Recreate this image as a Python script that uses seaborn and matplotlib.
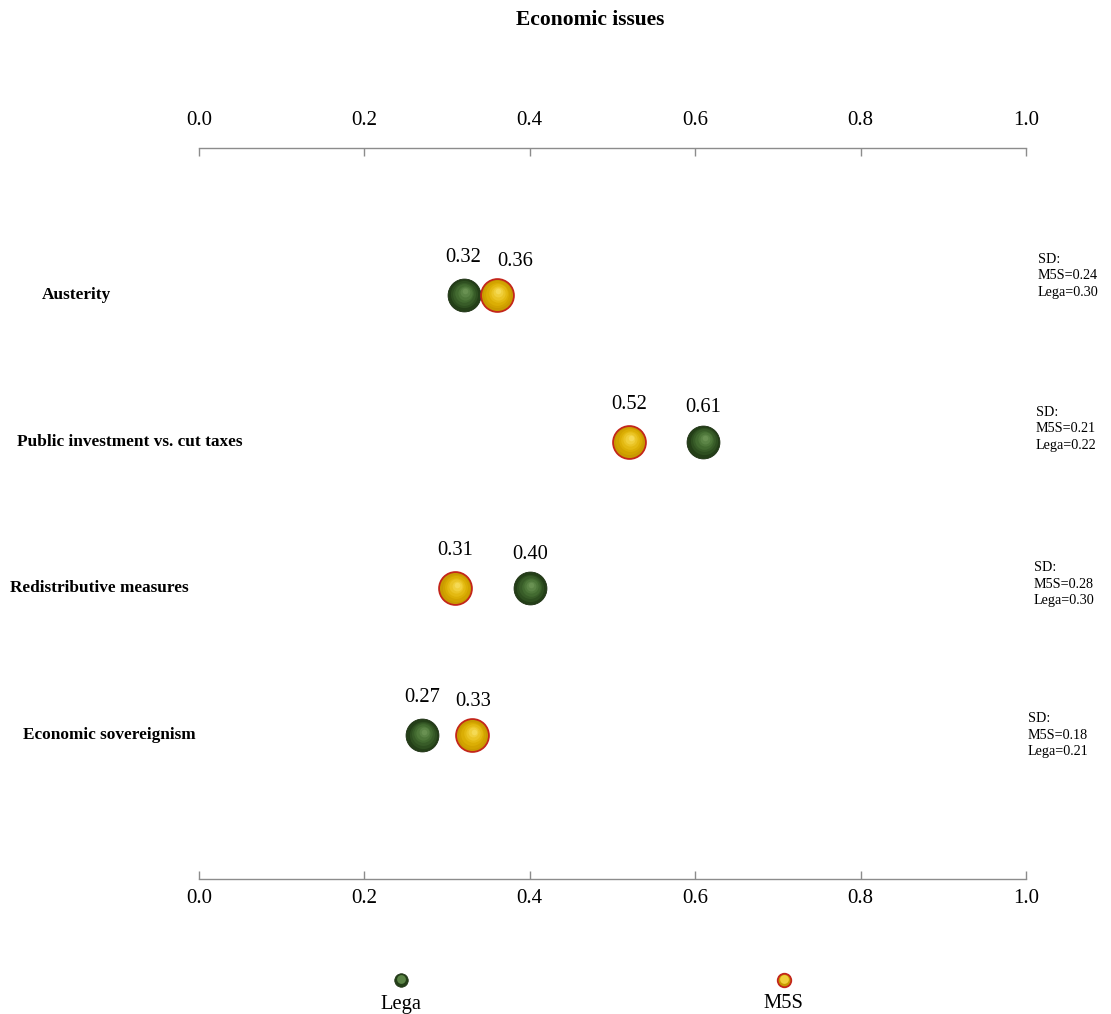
import numpy as np
import pandas as pd
import matplotlib
matplotlib.use("Agg")
import matplotlib.pyplot as plt
import matplotlib.transforms as mtransforms
import seaborn as sns

# ---------------- data ----------------
issues = ["Austerity", "Public investment vs. cut taxes",
          "Redistributive measures", "Economic sovereignism"]
lega_mean = [0.32, 0.61, 0.40, 0.27]
m5s_mean = [0.36, 0.52, 0.31, 0.33]
m5s_sd = [0.24, 0.21, 0.28, 0.18]
lega_sd = [0.30, 0.22, 0.30, 0.21]
parties = ["Lega", "M5S"]
x_ticks = [0.0, 0.2, 0.4, 0.6, 0.8, 1.0]
title = "Economic issues"

# ---------------- layout constants ----------------
W, H = 1111, 1014
DPI = 100
AX_L, AX_R, AX_T, AX_B = 199, 1026, 148, 879   # pixel positions
label_left_px = [42, 17, 10, 23]
sd_left_px = [1038, 1036, 1034, 1028]
sd_dy_px = [-19, -13, -4, 0]
legend_x = [0.244, 0.707]

sns.set_theme(style="white")
plt.rcParams["font.family"] = ["Liberation Serif", "DejaVu Serif"]
plt.rcParams["text.color"] = "black"
plt.rcParams["xtick.labelcolor"] = "black"

fig = plt.figure(figsize=(W / DPI, H / DPI), dpi=DPI)
ax = fig.add_axes([AX_L / W, 1 - AX_B / H, (AX_R - AX_L) / W, (AX_B - AX_T) / H])

rows = np.arange(len(issues))
df = pd.DataFrame({
    "issue": issues * 2,
    "row": np.concatenate([rows, rows]),
    "value": lega_mean + m5s_mean,
    "party": ["Lega"] * len(issues) + ["M5S"] * len(issues),
})

styles = {
    "Lega": dict(base="#243f18", edge="#1a2e10",
                 layers=["#2e4f20", "#385c28", "#426a30", "#4e773a", "#5b8446", "#699152"]),
    "M5S": dict(base="#c99a00", edge="#c3261b",
                layers=["#d2a300", "#dbae05", "#e3b912", "#eac425", "#f0cf3b", "#f5da55"]),
}

BIG = 560
for p in parties:
    sub = df[df["party"] == p]
    st = styles[p]
    sns.scatterplot(data=sub, x="value", y="row", ax=ax, s=BIG, color=st["base"],
                    edgecolor=st["edge"], linewidth=1.3 if p == "M5S" else 0.6,
                    legend=False, zorder=3, clip_on=False)
    n = len(st["layers"])
    for i, c in enumerate(st["layers"]):
        frac = 1 - (i + 1) / (n + 1.3)
        off = mtransforms.offset_copy(ax.transData, fig=fig, x=0.6 * (i + 1) / n * 2,
                                      y=1.2 * (i + 1) / n * 2, units="points")
        ax.scatter(sub["value"], sub["row"], s=BIG * frac ** 2 * 0.92, color=c,
                   linewidth=0, zorder=4 + i, transform=off, clip_on=False)

ax.set_xlim(0, 1)
ax.set_ylim(3.98, -1.0)
ax.set_xlabel("")
ax.set_ylabel("")
ax.set_yticks([])
ax.set_xticks(x_ticks)
ax.set_xticklabels([f"{t:.1f}" for t in x_ticks])
for s in ["left", "right"]:
    ax.spines[s].set_visible(False)
for s in ["top", "bottom"]:
    ax.spines[s].set_color("#8c8c8c")
    ax.spines[s].set_linewidth(1.0)
ax.xaxis.set_ticks_position("both")
ax.tick_params(axis="x", which="both", direction="in", length=6, width=1.0,
               color="#8c8c8c", labelsize=15, labeltop=True, labelbottom=True,
               labelcolor="black")
for t in ax.xaxis.get_major_ticks():
    t.set_pad(7)
top_off = mtransforms.ScaledTranslation(0, 6 / 72, fig.dpi_scale_trans)
for t in ax.xaxis.get_major_ticks():
    t.label2.set_transform(t.label2.get_transform() + top_off)

# value labels
for i in rows:
    a, b = lega_mean[i], m5s_mean[i]
    pairs = sorted([a, b])
    gap = pairs[1] - pairs[0]
    shift = max(0.0, 0.062 - gap)
    for v in (a, b):
        is_right = (v == pairs[1])
        dx = shift if is_right else 0.0
        dy = -0.23 if is_right else -0.255
        ax.text(v + dx, i + dy, f"{v:.2f}", ha="center", va="center",
                fontsize=14.8, color="black", zorder=10)

# issue labels
for i, name in enumerate(issues):
    xd = (label_left_px[i] - AX_L) / (AX_R - AX_L)
    ax.text(xd, i, name, ha="left", va="center", fontsize=12.4,
            fontweight="bold", clip_on=False)

# SD annotations
for i in rows:
    xd = (sd_left_px[i] - AX_L) / (AX_R - AX_L)
    yd = i + sd_dy_px[i] / ((AX_B - AX_T) / 4.98)
    ax.text(xd, yd, f"SD:\nM5S={m5s_sd[i]:.2f}\nLega={lega_sd[i]:.2f}",
            ha="left", va="center", fontsize=10.2, linespacing=1.35, clip_on=False)

# title
fig.text(590 / W, 1 - 20 / H, title, ha="center", va="center",
         fontsize=15.5, fontweight="bold")

# legend
lax = fig.add_axes([AX_L / W, 0, (AX_R - AX_L) / W, 60 / H])
lax.set_xlim(0, 1)
lax.set_ylim(0, 60)
lax.axis("off")
for p, lx in zip(parties, legend_x):
    st = styles[p]
    lax.scatter([lx], [34], s=95, color=st["base"], edgecolor=st["edge"],
                linewidth=1.3 if p == "M5S" else 0.5, zorder=3)
    lax.scatter([lx], [35], s=40, color=st["layers"][-2], linewidth=0, zorder=4)
    lax.text(lx, 10, p, ha="center", va="center", fontsize=14.8)

fig.savefig("out.png", dpi=DPI)
